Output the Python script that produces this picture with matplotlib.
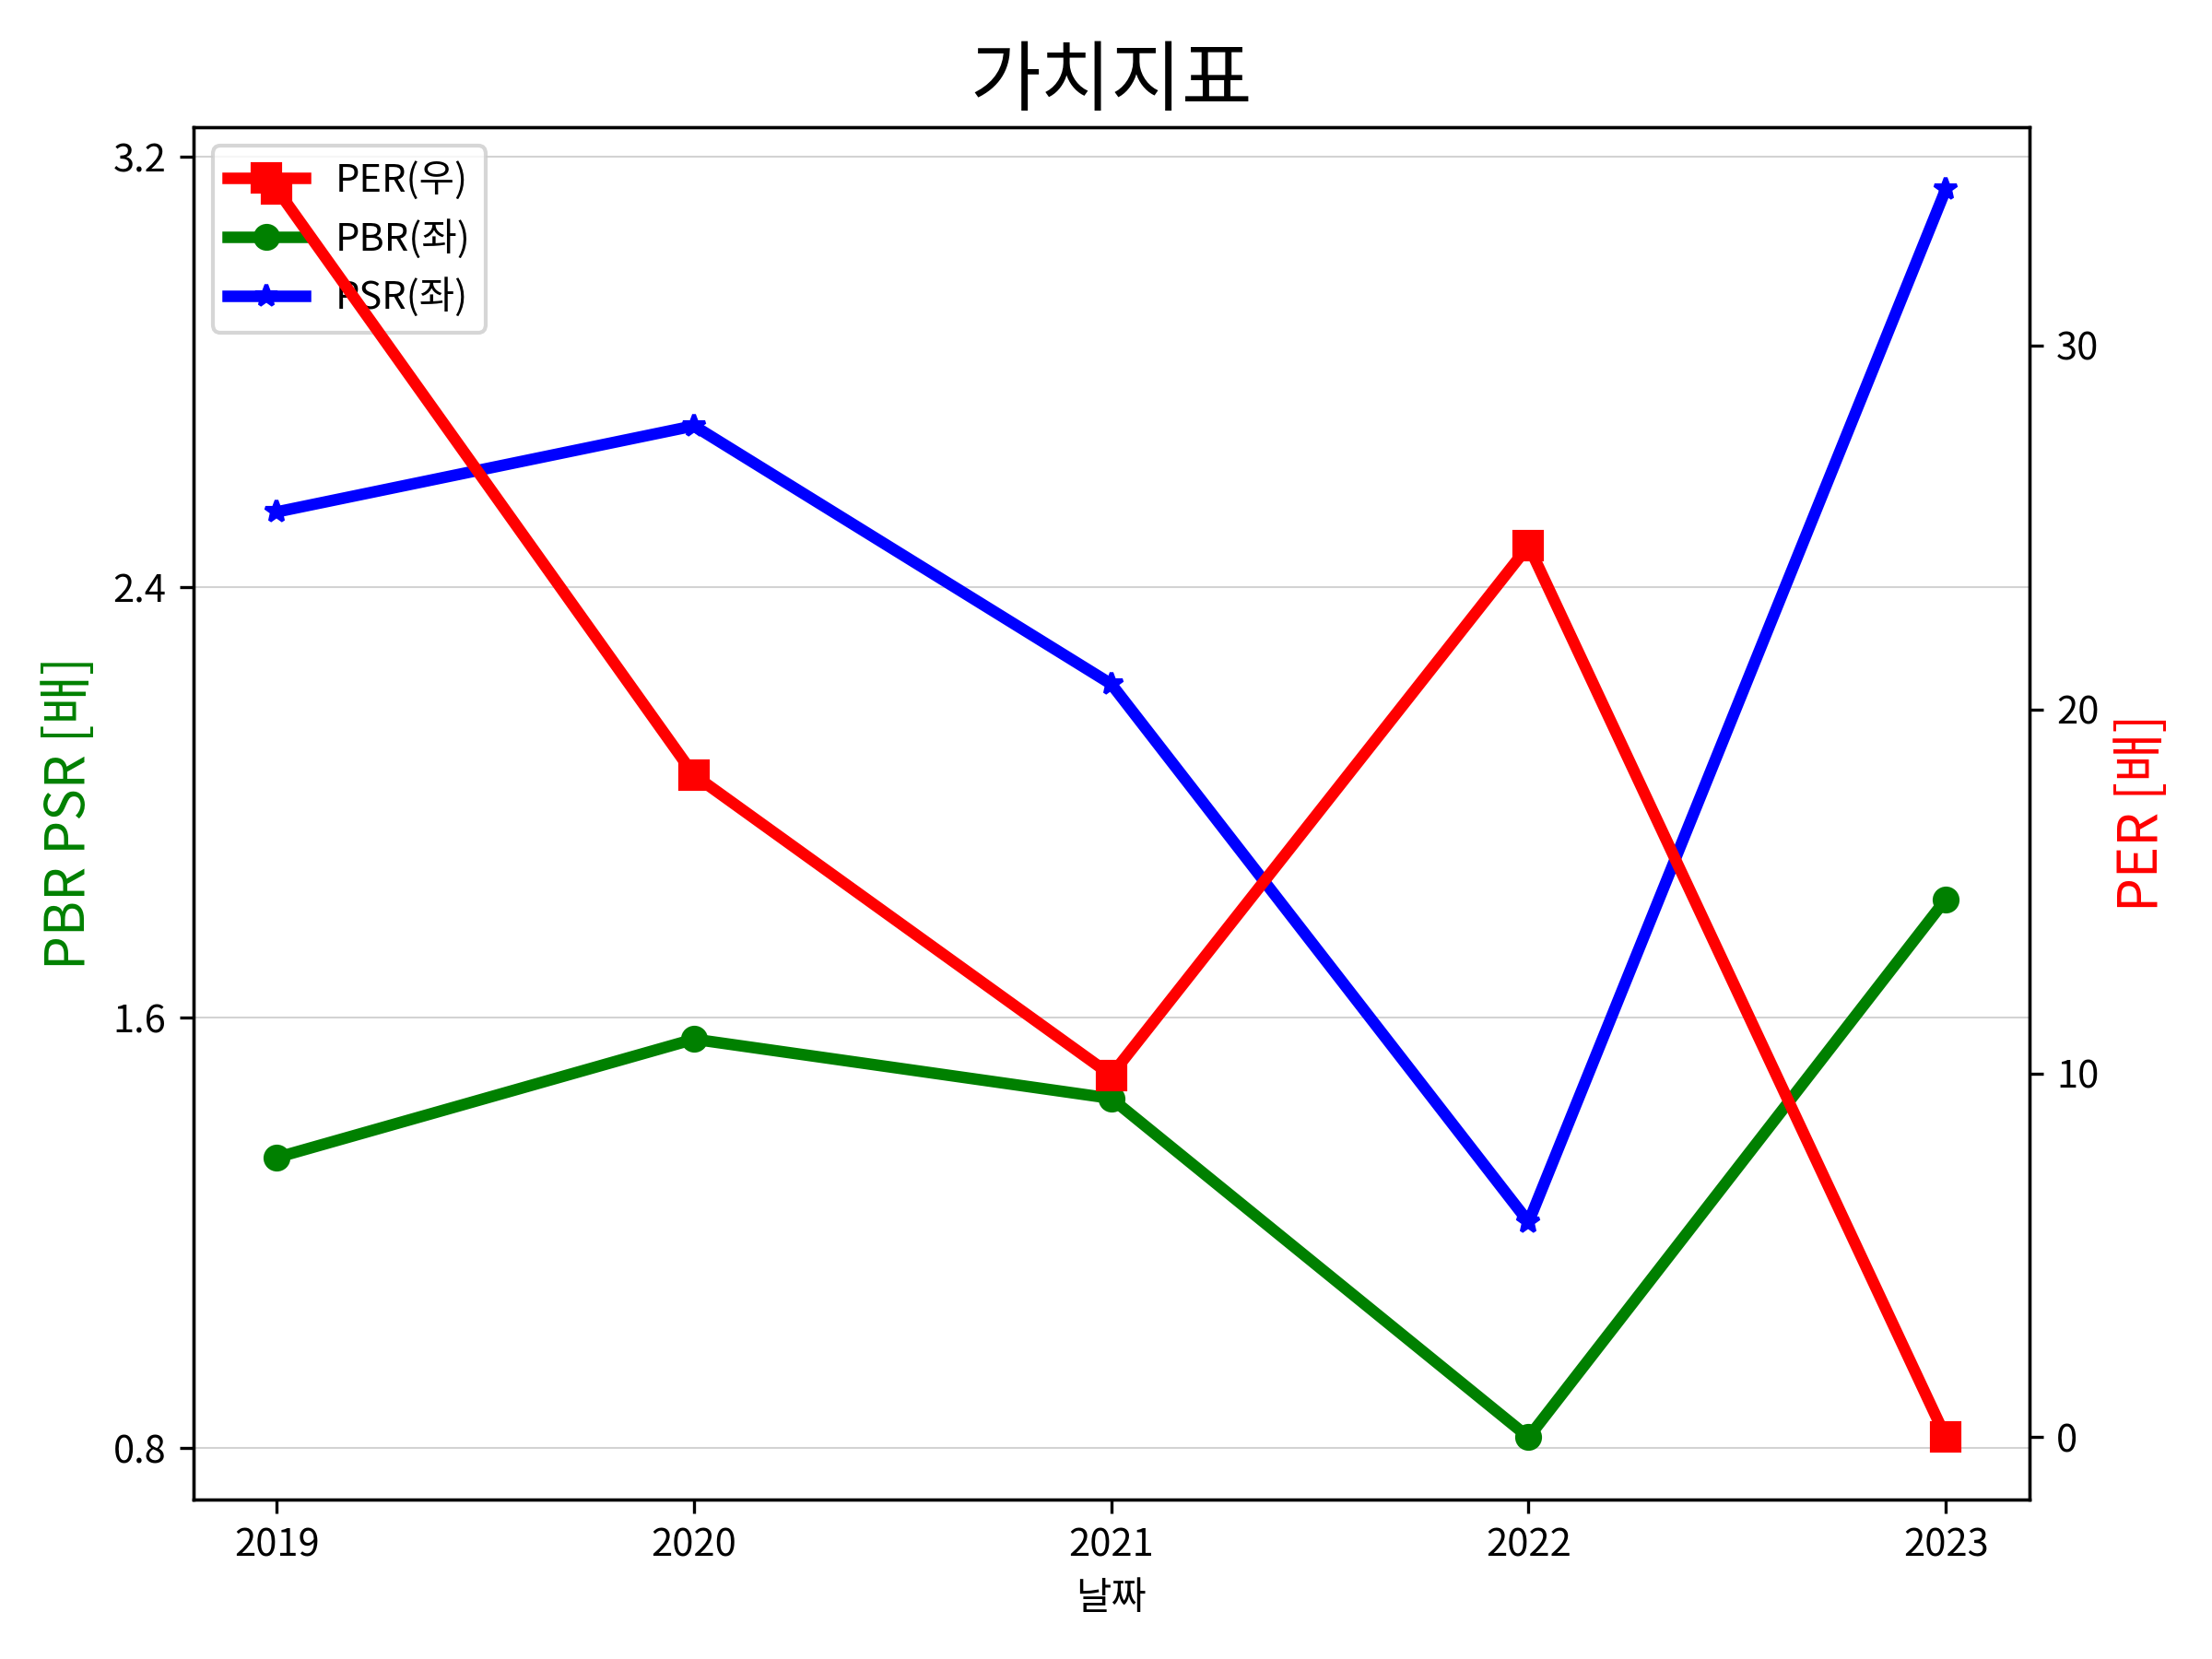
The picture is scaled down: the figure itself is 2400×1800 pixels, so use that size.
import matplotlib.pyplot as plt

plt.rcParams['font.family'] = ['Noto Sans CJK KR', 'DejaVu Sans']
plt.rcParams['axes.unicode_minus'] = False

years = [2019, 2020, 2021, 2022, 2023]
per = [34.3, 18.2, 9.95, 24.5, 0.0]
pbr = [1.34, 1.56, 1.45, 0.82, 1.82]
psr = [2.54, 2.70, 2.22, 1.22, 3.14]

fig, ax = plt.subplots(figsize=(8, 6), dpi=300)
ax2 = ax.twinx()

l1, = ax2.plot(years, per, 'r-s', linewidth=3, markersize=7, label='PER(우)')
l2, = ax.plot(years, pbr, 'g-o', linewidth=3, markersize=6, label='PBR(좌)')
l3, = ax.plot(years, psr, 'b-*', linewidth=3, markersize=6, label='PSR(좌)')

ax.set_yticks([0.8, 1.6, 2.4, 3.2])
ax2.set_yticks([0, 10, 20, 30])
ax.set_xticks(years)
ax.grid(axis='y', color='lightgray', linewidth=0.5)

ax.set_xlabel('날짜')
ax.set_ylabel('PBR PSR [배]', color='green', fontsize=14)
ax2.set_ylabel('PER [배]', color='red', fontsize=14)
ax.set_title('가치지표', fontsize=20)

ax.legend(handles=[l1, l2, l3], loc='upper left')

plt.tight_layout()
plt.savefig('out.png')
